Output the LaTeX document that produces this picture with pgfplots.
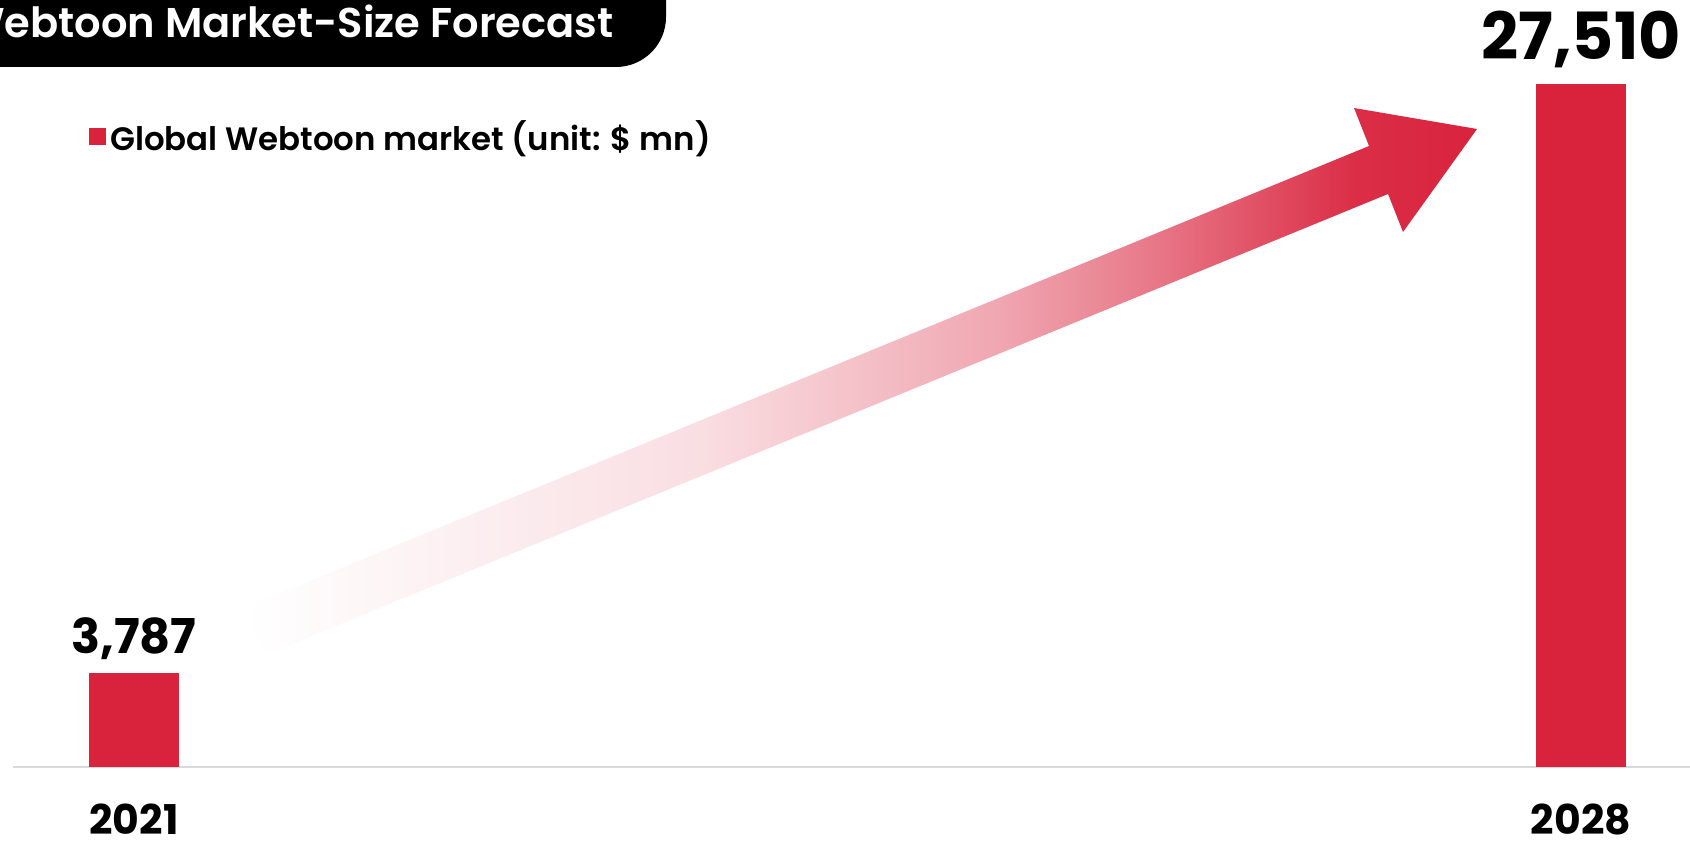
\documentclass[border=0pt]{standalone}
\usepackage{pgfplots}
\pgfplotsset{compat=1.18}
\usepackage{fontspec}
\setmainfont{Poppins}
\newfontfamily\semib{Poppins SemiBold}
\definecolor{barred}{RGB}{217,35,61}
\definecolor{axgray}{RGB}{217,217,217}
\pgfdeclarehorizontalshading{arrowshade}{100bp}{color(0bp)=(white); color(25bp)=(white); color(43.5bp)=(barred!15!white); color(55.5bp)=(barred!40!white); color(61.5bp)=(barred!60!white); color(70bp)=(barred!95!white); color(75bp)=(barred); color(100bp)=(barred)}
\begin{document}
\begin{tikzpicture}
\useasboundingbox (0,0) rectangle (845pt,421pt);
\clip (0,0) rectangle (845pt,421pt);
% title box
\fill[black, rounded corners=25pt] (-30pt,470pt) rectangle (333pt,387.5pt);
\node[anchor=base east, inner sep=0pt, text=white, font=\semib\fontsize{20.8}{24}\selectfont] at (307pt,402pt) {Webtoon Market-Size Forecast};
% growth arrow
\shade[shading=arrowshade]
  (123pt,117.5pt) -- (684.5pt,348pt) -- (677pt,367pt) -- (738.5pt,356.5pt) -- (701.5pt,305pt) -- (694pt,324pt) -- (132.5pt,93.5pt) -- cycle;
\begin{axis}[
  at={(6.5pt,37.5pt)}, anchor=south west,
  width=838.5pt, height=383.5pt, scale only axis,
  xmin=13, xmax=1690, ymin=0, ymax=30893,
  hide y axis, axis x line*=bottom,
  x axis line style={-, draw=axgray, line width=1pt},
  xtick={134,1581}, xticklabels={2021,2028},
  major tick length=0pt,
  xticklabel style={anchor=north, inner sep=0pt, yshift=-18.5pt, font=\bfseries\fontsize{20.5}{24}\selectfont},
  /pgf/number format/assume math mode=true,
  ybar, bar width=45pt, bar shift=0pt, clip=false,
  legend style={draw=none, fill=none, at={(axis description cs:0.0453,0.849)}, anchor=north west, inner sep=0pt,
    font=\semib\fontsize{16.2}{19}\selectfont},
]
\addplot[fill=barred, draw=none, point meta=y,
  nodes near coords={\pgfmathprintnumber[fixed,precision=0,1000 sep={,}]{\pgfplotspointmeta}},
  nodes near coords style={anchor=base, inner sep=0pt, yshift=9.5pt, font=\bfseries\fontsize{24}{28}\selectfont},
  legend image code/.code={\fill[barred] (0pt,-4.25pt) rectangle (8.5pt,4.25pt);}]
  coordinates {(134,3787)};
\addlegendentry{Global Webtoon market (unit: \$ mn)}
\addplot[fill=barred, draw=none, point meta=y,
  nodes near coords={\pgfmathprintnumber[fixed,precision=0,1000 sep={,}]{\pgfplotspointmeta}},
  nodes near coords style={anchor=base, inner sep=0pt, yshift=12pt, font=\bfseries\fontsize{32.5}{37}\selectfont}]
  coordinates {(1581,27510)};
\end{axis}
\end{tikzpicture}
\end{document}
